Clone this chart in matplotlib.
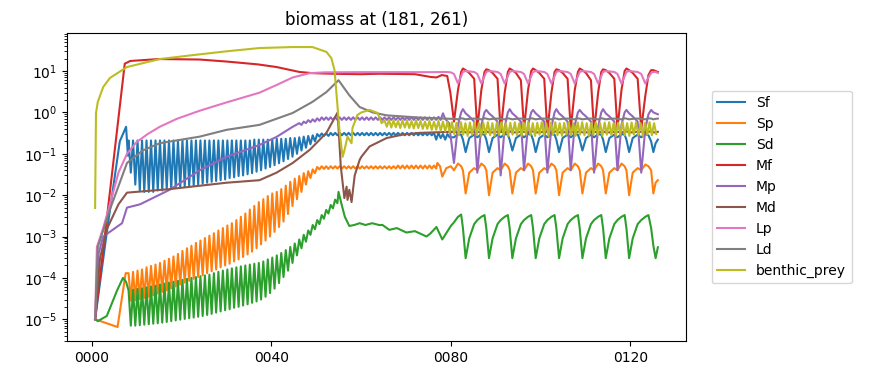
import matplotlib

matplotlib.use("Agg")
import matplotlib.pyplot as plt

# Values (years on x, biomass on a log scale).
SERIES_NAMES = ["Sf", "Sp", "Sd", "Mf", "Mp", "Md", "Lp", "Ld", "benthic_prey"]
X_TICKS = [0, 40, 80, 120]

# Shared time points of the late (~5 yr) cycles, used by most groups.
LATE_YEARS = [
    80.7, 81.6, 82.3, 82.7, 83.3, 84.1, 85.2,
    85.9, 86.8, 87.5, 87.9, 88.5, 89.3, 90.4,
    91.1, 92.0, 92.7, 93.1, 93.7, 94.5, 95.6,
    96.3, 97.2, 97.9, 98.3, 98.9, 99.7, 100.8,
    101.5, 102.4, 103.1, 103.5, 104.1, 104.9, 106.0,
    106.7, 107.6, 108.3, 108.7, 109.3, 110.1, 111.2,
    111.9, 112.8, 113.5, 113.9, 114.5, 115.3, 116.4,
    117.1, 118.0, 118.7, 119.1, 119.7, 120.5, 121.6,
    122.4, 123.3, 124.0, 124.6, 125.1, 125.6, 126.1,
]

# --- Sf -------------------------------------------------------------------
sf_early_years = [0.8, 3.5, 6.3, 7.7, 8.1]
sf_early = [1e-5, 1.5e-3, 0.2, 0.45, 0.09]
sf_osc_start = 8
sf_peaks = [
    0.21, 0.21, 0.21, 0.21, 0.21, 0.21, 0.21, 0.21, 0.21, 0.21,
    0.21, 0.21, 0.21, 0.21, 0.21, 0.21, 0.21, 0.21, 0.21, 0.21,
    0.21, 0.21, 0.21, 0.21, 0.21, 0.21, 0.21, 0.21, 0.22, 0.22,
    0.22, 0.22, 0.22, 0.23, 0.23, 0.23, 0.24, 0.24, 0.25, 0.26,
    0.27, 0.28, 0.30, 0.31, 0.31, 0.32, 0.32, 0.32, 0.32, 0.32,
    0.32, 0.32, 0.32, 0.32, 0.32, 0.32, 0.32, 0.32, 0.32, 0.32,
    0.32, 0.32, 0.32, 0.32, 0.32, 0.32, 0.32, 0.32, 0.32, 0.32,
    0.30, 0.30,
]
sf_troughs = [
    0.035, 0.018, 0.013, 0.012, 0.012, 0.012, 0.013, 0.013, 0.014, 0.014,
    0.015, 0.015, 0.016, 0.017, 0.017, 0.018, 0.019, 0.020, 0.021, 0.022,
    0.023, 0.024, 0.026, 0.027, 0.029, 0.030, 0.032, 0.034, 0.037, 0.040,
    0.044, 0.048, 0.053, 0.059, 0.066, 0.075, 0.085, 0.10, 0.12, 0.14,
    0.17, 0.20, 0.26, 0.27, 0.27, 0.28, 0.28, 0.28, 0.28, 0.28,
    0.28, 0.28, 0.28, 0.28, 0.28, 0.28, 0.28, 0.28, 0.28, 0.28,
    0.28, 0.28, 0.28, 0.28, 0.28, 0.28, 0.28, 0.28, 0.22, 0.24,
    0.22, 0.25,
]
sf_late = [
    0.25, 0.30, 0.29, 0.22, 0.11, 0.24, 0.29,
    0.25, 0.30, 0.29, 0.22, 0.11, 0.24, 0.29,
    0.25, 0.30, 0.29, 0.22, 0.12, 0.24, 0.29,
    0.25, 0.30, 0.29, 0.22, 0.11, 0.24, 0.29,
    0.25, 0.30, 0.29, 0.22, 0.11, 0.24, 0.29,
    0.25, 0.30, 0.29, 0.22, 0.12, 0.24, 0.29,
    0.25, 0.30, 0.29, 0.22, 0.11, 0.24, 0.29,
    0.25, 0.30, 0.29, 0.22, 0.11, 0.24, 0.29,
    0.25, 0.30, 0.28, 0.20, 0.11, 0.18, 0.22,
]

# --- Sp -------------------------------------------------------------------
sp_early_years = [0.8, 5.8, 7.6]
sp_early = [1e-5, 6.5e-6, 1.3e-4]
sp_osc_start = 8
sp_peaks = [
    1.3e-4, 1.4e-4, 1.5e-4, 1.6e-4, 1.8e-4, 1.95e-4, 2.1e-4, 2.3e-4, 2.6e-4, 2.9e-4,
    3.3e-4, 3.8e-4, 4.5e-4, 5.2e-4, 6e-4, 7e-4, 8e-4, 9.2e-4, 1.05e-3, 1.2e-3,
    1.4e-3, 1.6e-3, 1.85e-3, 2.1e-3, 2.5e-3, 3e-3, 3.6e-3, 4.5e-3, 5.5e-3, 6.8e-3,
    8e-3, 9.5e-3, 0.011, 0.012, 0.014, 0.017, 0.021, 0.025, 0.029, 0.034,
    0.038, 0.042, 0.048, 0.050, 0.050, 0.050, 0.050, 0.050, 0.050, 0.050,
    0.050, 0.050, 0.050, 0.050, 0.050, 0.050, 0.050, 0.050, 0.050, 0.050,
    0.052, 0.052, 0.052, 0.052, 0.052, 0.052, 0.052, 0.052, 0.052,
]
sp_troughs = [
    2.8e-5, 2.9e-5, 3.1e-5, 3.3e-5, 3.5e-5, 3.8e-5, 4.2e-5, 4.6e-5, 5e-5, 5.6e-5,
    6.2e-5, 6.9e-5, 7.7e-5, 8.5e-5, 9.5e-5, 1.05e-4, 1.15e-4, 1.3e-4, 1.45e-4, 1.6e-4,
    1.8e-4, 2e-4, 2.2e-4, 2.5e-4, 2.8e-4, 3.2e-4, 3.7e-4, 4.3e-4, 5.2e-4, 6.5e-4,
    8e-4, 1e-3, 1.3e-3, 1.7e-3, 2.3e-3, 3.5e-3, 5.5e-3, 8e-3, 0.012, 0.018,
    0.026, 0.034, 0.042, 0.043, 0.043, 0.044, 0.044, 0.044, 0.044, 0.044,
    0.044, 0.044, 0.044, 0.044, 0.044, 0.044, 0.044, 0.044, 0.044, 0.044,
    0.044, 0.044, 0.044, 0.044, 0.044, 0.044, 0.044, 0.044, 0.044,
]
sp_mid_years = [77.0, 77.6, 78.1, 79.0, 80.0]
sp_mid = [0.06, 0.05, 0.028, 0.045, 0.05]
sp_late = [
    0.040, 0.058, 0.050, 0.040, 0.011, 0.035, 0.045,
    0.040, 0.058, 0.050, 0.040, 0.010, 0.035, 0.045,
    0.040, 0.058, 0.050, 0.040, 0.011, 0.035, 0.045,
    0.040, 0.058, 0.050, 0.040, 0.011, 0.035, 0.045,
    0.040, 0.058, 0.050, 0.040, 0.010, 0.035, 0.045,
    0.040, 0.058, 0.050, 0.040, 0.011, 0.035, 0.045,
    0.040, 0.058, 0.050, 0.040, 0.011, 0.035, 0.045,
    0.040, 0.058, 0.050, 0.040, 0.010, 0.035, 0.045,
    0.040, 0.055, 0.050, 0.040, 0.011, 0.020, 0.023,
]

# --- Sd -------------------------------------------------------------------
sd_early_years = [0.8, 1.4, 3.4, 5.7, 7.0, 7.7]
sd_early = [1e-5, 9e-6, 1.2e-5, 5e-5, 1e-4, 8e-5]
sd_osc_start = 8
sd_peaks = [
    5e-5, 5.2e-5, 5.4e-5, 5.6e-5, 5.9e-5, 6.2e-5, 6.5e-5, 6.9e-5, 7.3e-5, 7.7e-5,
    8.1e-5, 8.5e-5, 9e-5, 9.5e-5, 1e-4, 1.05e-4, 1.1e-4, 1.15e-4, 1.2e-4, 1.3e-4,
    1.4e-4, 1.5e-4, 1.6e-4, 1.7e-4, 1.8e-4, 1.9e-4, 2e-4, 2.1e-4, 2.2e-4, 2.3e-4,
    2.5e-4, 2.8e-4, 3.1e-4, 3.5e-4, 4e-4, 4.7e-4, 5.6e-4, 6.8e-4, 8.5e-4, 1.1e-3,
    1.4e-3, 1.9e-3, 2.5e-3, 3.3e-3, 4.4e-3, 5.8e-3, 7.8e-3,
]
sd_troughs = [
    7e-6, 7e-6, 7.2e-6, 7.4e-6, 7.6e-6, 7.8e-6, 8e-6, 8.3e-6, 8.6e-6, 9e-6,
    9.4e-6, 9.8e-6, 1.02e-5, 1.06e-5, 1.1e-5, 1.15e-5, 1.2e-5, 1.27e-5, 1.35e-5, 1.45e-5,
    1.55e-5, 1.65e-5, 1.75e-5, 1.9e-5, 2e-5, 2.15e-5, 2.3e-5, 2.5e-5, 2.7e-5, 3e-5,
    3.5e-5, 4.3e-5, 5.5e-5, 7.5e-5, 1.05e-4, 1.5e-4, 2.3e-4, 3.5e-4, 5.2e-4, 7.5e-4,
    1.1e-3, 1.5e-3, 2.0e-3, 2.7e-3, 3.6e-3, 4.8e-3, 6.4e-3,
]
sd_mid_years = [55.0, 55.6, 56.4, 57.4, 58.5, 59.7, 61.0, 62.5, 64.0, 64.8,
                66.3, 68.0, 70.1, 72.0, 74.6, 75.5, 76.8, 78.1, 80.0]
sd_mid = [0.012, 6.5e-3, 3e-3, 1.8e-3, 1.9e-3, 2.1e-3, 1.9e-3, 2.1e-3, 1.9e-3, 1.9e-3,
          1.45e-3, 1.6e-3, 1.25e-3, 1.35e-3, 1.0e-3, 1.2e-3, 1.7e-3, 8.5e-4, 1.8e-3]
sd_late = [
    0.0022, 0.0030, 0.0034, 0.0016, 0.0003, 0.0009, 0.0020,
    0.0025, 0.0030, 0.0033, 0.0016, 0.0003, 0.0009, 0.0020,
    0.0025, 0.0030, 0.0033, 0.0016, 0.0003, 0.0009, 0.0020,
    0.0025, 0.0030, 0.0033, 0.0016, 0.0003, 0.0009, 0.0020,
    0.0025, 0.0030, 0.0033, 0.0016, 0.0003, 0.0009, 0.0020,
    0.0025, 0.0030, 0.0033, 0.0016, 0.0003, 0.0009, 0.0020,
    0.0025, 0.0030, 0.0033, 0.0016, 0.0003, 0.0009, 0.0020,
    0.0025, 0.0030, 0.0033, 0.0016, 0.0003, 0.0009, 0.0020,
    0.0025, 0.0030, 0.0033, 0.0016, 0.0006, 0.0003, 0.00055,
]

# --- Mf -------------------------------------------------------------------
mf_early_years = [0.8, 4.1, 7.4, 8.6, 15.0, 24.0, 30.0, 37.0, 41.2,
                  46.3, 49.2, 52.0, 56.0, 60.0, 64.0, 68.0, 72.0, 75.5, 76.8,
                  78.0, 79.2, 79.9]
mf_early = [1e-5, 0.012, 15.0, 17.5, 19.5, 19.0, 17.0, 14.5, 12.5,
            9.5, 8.9, 8.7, 8.5, 8.4, 8.6, 8.5, 8.4, 7.2, 7.0,
            8.0, 7.6, 3.0]
mf_late = [
    0.60, 3.5, 9.5, 11.5, 10.5, 9.0, 6.5,
    0.40, 3.5, 9.5, 11.0, 10.5, 9.0, 6.5,
    0.35, 3.0, 9.5, 11.5, 10.5, 9.0, 6.0,
    0.40, 3.5, 10.0, 11.5, 10.5, 9.0, 6.5,
    0.35, 3.0, 9.5, 11.0, 10.5, 9.0, 6.5,
    0.40, 3.5, 9.5, 11.5, 10.5, 9.0, 6.0,
    0.35, 3.0, 9.5, 11.0, 10.5, 9.0, 6.5,
    0.40, 3.5, 10.0, 11.5, 10.5, 9.0, 6.5,
    0.40, 2.5, 8.0, 10.5, 10.5, 10.0, 9.5,
]

# --- Mp -------------------------------------------------------------------
mp_early_years = [0.8, 1.6, 2.6, 6.8, 7.9, 10.8, 17.4, 24.1, 30.1, 37.4, 41.2, 44.8]
mp_early = [1e-5, 4e-4, 1e-3, 2.1e-3, 5e-3, 6e-3, 0.0135, 0.04, 0.085, 0.163, 0.256, 0.45]
mp_osc_start = 46
mp_peaks = [
    0.55, 0.60, 0.65, 0.68, 0.72, 0.76, 0.76, 0.76, 0.76, 0.76,
    0.76, 0.76, 0.76, 0.76, 0.76, 0.76, 0.76, 0.76, 0.76, 0.76,
    0.76, 0.76, 0.76, 0.76, 0.76, 0.76, 0.76, 0.76, 0.76, 0.76,
    0.76, 0.78, 0.95,
]
mp_troughs = [
    0.50, 0.55, 0.58, 0.60, 0.63, 0.66, 0.66, 0.66, 0.66, 0.66,
    0.66, 0.66, 0.66, 0.66, 0.66, 0.66, 0.66, 0.66, 0.66, 0.66,
    0.66, 0.66, 0.66, 0.66, 0.66, 0.66, 0.66, 0.66, 0.66, 0.66,
    0.66, 0.66, 0.70,
]
mp_mid_years = [79.6]
mp_mid = [0.55]
mp_late = [
    0.060, 0.50, 1.0, 1.20, 0.95, 0.80, 0.60,
    0.035, 0.50, 1.0, 1.15, 0.95, 0.80, 0.60,
    0.030, 0.45, 1.0, 1.20, 0.95, 0.80, 0.60,
    0.040, 0.50, 1.0, 1.15, 0.95, 0.80, 0.60,
    0.035, 0.45, 1.0, 1.20, 0.95, 0.80, 0.60,
    0.040, 0.50, 1.0, 1.15, 0.95, 0.80, 0.60,
    0.035, 0.45, 1.0, 1.20, 0.95, 0.80, 0.60,
    0.040, 0.50, 1.0, 1.15, 0.95, 0.80, 0.60,
    0.035, 0.40, 0.9, 1.15, 1.00, 0.95, 0.90,
]

# --- Md -------------------------------------------------------------------
md_early_years = [0.8, 1.9, 3.4, 6.0, 7.9, 17.4, 30.1, 37.4, 41.2, 44.8, 48.6,
                  52.3, 54.8, 55.5, 56.3, 56.8, 57.0, 57.4, 57.9, 58.6, 59.7,
                  60.1, 61.9, 65.7, 69.2, 73.0, 80.0]
md_early = [1e-5, 3e-4, 1.5e-3, 6e-3, 0.0115, 0.014, 0.02, 0.023, 0.035, 0.06, 0.125,
            0.32, 1.0, 0.05, 0.0085, 0.016, 0.0077, 0.0135, 0.0068, 0.03, 0.071,
            0.085, 0.15, 0.24, 0.29, 0.32, 0.34]
md_late = [
    0.34, 0.33, 0.34, 0.35, 0.33, 0.33, 0.34,
    0.34, 0.33, 0.34, 0.35, 0.33, 0.33, 0.34,
    0.34, 0.33, 0.34, 0.35, 0.33, 0.33, 0.34,
    0.34, 0.33, 0.34, 0.35, 0.33, 0.33, 0.34,
    0.34, 0.33, 0.34, 0.35, 0.33, 0.33, 0.34,
    0.34, 0.33, 0.34, 0.35, 0.33, 0.33, 0.34,
    0.34, 0.33, 0.34, 0.35, 0.33, 0.33, 0.34,
    0.34, 0.33, 0.34, 0.35, 0.33, 0.33, 0.34,
    0.34, 0.33, 0.34, 0.35, 0.33, 0.33, 0.34,
]

# --- Lp -------------------------------------------------------------------
lp_early_years = [0.8, 1.2, 2.6, 4.1, 6.0, 7.9, 10.0, 12.5, 15.2, 19.0, 24.1,
                  30.1, 37.4, 41.2, 44.8, 48.6, 52.0, 60.0, 70.0, 76.0, 79.0, 80.0]
lp_early = [1e-5, 5.6e-4, 1.6e-3, 6e-3, 0.035, 0.1, 0.19, 0.3, 0.45, 0.7, 1.1,
            1.75, 3.0, 4.6, 7.0, 8.9, 9.3, 9.4, 9.4, 9.4, 9.5, 9.3]
lp_late = [
    8.5, 5.0, 7.5, 9.5, 10.0, 9.8, 9.5,
    8.5, 5.0, 7.5, 9.5, 10.0, 9.8, 9.5,
    8.5, 5.0, 7.5, 9.5, 10.0, 9.8, 9.5,
    8.5, 5.0, 7.5, 9.5, 10.0, 9.8, 9.5,
    8.5, 5.0, 7.5, 9.5, 10.0, 9.8, 9.5,
    8.5, 5.0, 7.5, 9.5, 10.0, 9.8, 9.5,
    8.5, 5.0, 7.5, 9.5, 10.0, 9.8, 9.5,
    8.5, 5.0, 7.5, 9.5, 10.0, 9.8, 9.5,
    8.5, 5.0, 7.0, 9.0, 9.5, 9.5, 9.0,
]

# --- Ld -------------------------------------------------------------------
ld_early_years = [0.8, 1.4, 4.1, 7.9, 11.4, 15.2, 24.1, 30.1, 37.4, 44.8, 49.2,
                  52.3, 55.0, 57.4, 59.7, 62.6, 65.7, 73.0, 80.0]
ld_early = [1e-5, 5.6e-4, 4.5e-3, 0.06, 0.12, 0.18, 0.26, 0.38, 0.5, 0.97, 1.8,
            3.1, 6.0, 2.6, 1.35, 1.0, 0.85, 0.75, 0.7]
ld_late = [
    0.70, 0.68, 0.72, 0.71, 0.68, 0.70, 0.71,
    0.70, 0.68, 0.72, 0.71, 0.68, 0.70, 0.71,
    0.70, 0.68, 0.72, 0.71, 0.68, 0.70, 0.71,
    0.70, 0.68, 0.72, 0.71, 0.68, 0.70, 0.71,
    0.70, 0.68, 0.72, 0.71, 0.68, 0.70, 0.71,
    0.70, 0.68, 0.72, 0.71, 0.68, 0.70, 0.71,
    0.70, 0.68, 0.72, 0.71, 0.68, 0.70, 0.71,
    0.70, 0.68, 0.72, 0.71, 0.68, 0.70, 0.71,
    0.70, 0.68, 0.72, 0.71, 0.68, 0.70, 0.71,
]

# --- benthic_prey ---------------------------------------------------------
bp_early_years = [0.8, 1.0, 1.4, 2.6, 4.1, 7.9, 15.2, 22.6, 30.1, 37.4, 44.8,
                  49.2, 52.3, 53.4, 54.1, 54.6, 55.2, 55.9, 56.3, 57.0, 57.9,
                  58.1, 59.2, 60.1, 61.9, 63.7, 64.6]
bp_early = [0.0049, 0.97, 1.8, 4.1, 6.8, 12.5, 19.5, 24.3, 30.0, 36.0, 38.0,
            38.0, 29.0, 20.6, 10.6, 2.4, 0.375, 0.084, 0.12, 0.26, 0.18,
            0.42, 0.87, 1.0, 1.15, 0.97, 0.55]
bp_osc_start = 65
bp_peaks = [
    0.64, 0.66, 0.64, 0.62, 0.64, 0.63, 0.62, 0.64, 0.62, 0.60,
    0.62, 0.60, 0.62, 0.60, 0.60, 0.58, 0.56, 0.58, 0.55, 0.57,
    0.58, 0.55, 0.56, 0.58, 0.55, 0.57, 0.58, 0.55, 0.56, 0.58,
    0.55, 0.57, 0.58, 0.55, 0.56, 0.58, 0.55, 0.57, 0.58, 0.55,
    0.56, 0.58, 0.55, 0.57, 0.58, 0.55, 0.56, 0.58, 0.55, 0.57,
    0.58, 0.55, 0.56, 0.58, 0.55, 0.57, 0.58, 0.55, 0.56, 0.58,
    0.55,
]
bp_troughs = [
    0.45, 0.43, 0.44, 0.42, 0.43, 0.42, 0.41, 0.42, 0.40, 0.40,
    0.38, 0.38, 0.36, 0.35, 0.33, 0.30, 0.28, 0.29, 0.27, 0.29,
    0.28, 0.27, 0.29, 0.28, 0.27, 0.29, 0.28, 0.27, 0.29, 0.28,
    0.27, 0.29, 0.28, 0.27, 0.29, 0.28, 0.27, 0.29, 0.28, 0.27,
    0.29, 0.28, 0.27, 0.29, 0.28, 0.27, 0.29, 0.28, 0.27, 0.29,
    0.28, 0.27, 0.29, 0.28, 0.27, 0.29, 0.28, 0.27, 0.29, 0.28,
    0.30,
]


def annual(start, peaks, troughs):
    """Lay one summer peak and one winter trough per model year."""
    xs, ys = [], []
    for i, (p, t) in enumerate(zip(peaks, troughs)):
        xs += [start + i + 0.25, start + i + 0.75]
        ys += [p, t]
    return xs, ys


def join(*parts):
    xs, ys = [], []
    for px, py in parts:
        xs += list(px)
        ys += list(py)
    return xs, ys


def build_series():
    return {
        "Sf": join((sf_early_years, sf_early),
                   annual(sf_osc_start, sf_peaks, sf_troughs),
                   (LATE_YEARS, sf_late)),
        "Sp": join((sp_early_years, sp_early),
                   annual(sp_osc_start, sp_peaks, sp_troughs),
                   (sp_mid_years, sp_mid), (LATE_YEARS, sp_late)),
        "Sd": join((sd_early_years, sd_early),
                   annual(sd_osc_start, sd_peaks, sd_troughs),
                   (sd_mid_years, sd_mid), (LATE_YEARS, sd_late)),
        "Mf": join((mf_early_years, mf_early), (LATE_YEARS, mf_late)),
        "Mp": join((mp_early_years, mp_early),
                   annual(mp_osc_start, mp_peaks, mp_troughs),
                   (mp_mid_years, mp_mid), (LATE_YEARS, mp_late)),
        "Md": join((md_early_years, md_early), (LATE_YEARS, md_late)),
        "Lp": join((lp_early_years, lp_early), (LATE_YEARS, lp_late)),
        "Ld": join((ld_early_years, ld_early), (LATE_YEARS, ld_late)),
        "benthic_prey": join((bp_early_years, bp_early),
                             annual(bp_osc_start, bp_peaks, bp_troughs)),
    }


def main():
    series = build_series()

    fig = plt.figure(figsize=(8.73, 3.8), dpi=100)
    ax = fig.add_axes([0.0767, 0.1026, 0.7091, 0.8104])
    for name in SERIES_NAMES:
        xs, ys = series[name]
        ax.plot(xs, ys, label=name)

    ax.set_yscale("log")
    ax.set_xticks(X_TICKS)
    ax.set_xticklabels([f"{t:04d}" for t in X_TICKS])
    ax.set_title("biomass at (181, 261)")
    ax.legend(loc="center left", bbox_to_anchor=(1.03, 0.5))

    fig.savefig("out.png", dpi=100)
    plt.close(fig)


if __name__ == "__main__":
    main()
